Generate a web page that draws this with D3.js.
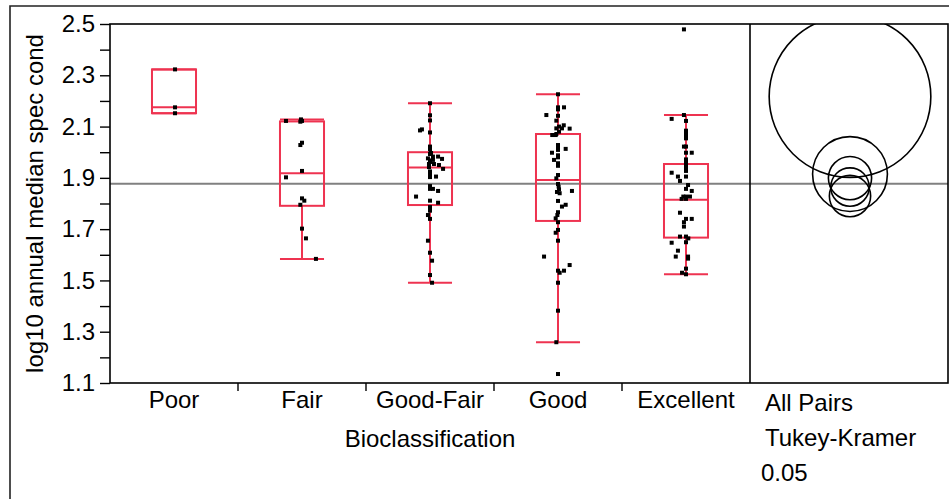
<!DOCTYPE html>
<html>
<head>
<meta charset="utf-8">
<script src="https://cdn.jsdelivr.net/npm/d3@7"></script>
<style>
  body { margin: 0; background: #fff; }
  svg { display: block; }
  text { font-family: "Liberation Sans", Arial, sans-serif; fill: #000; }
</style>
</head>
<body>
<svg id="chart" width="949" height="499"></svg>
<script>
// Categories along the x axis
const categories = ["Poor", "Fair", "Good-Fair", "Good", "Excellent"];

// log10 annual median specific conductance, one array per bioclassification
const poorValues = [2.323, 2.175, 2.152];
const fairValues = [2.122, 2.128, 2.122, 2.119, 2.037, 2.028, 1.927, 1.902, 1.820, 1.811, 1.795, 1.702, 1.664, 1.584];
const goodFairValues = [2.191, 2.144, 2.124, 2.085, 2.089, 2.077, 2.022, 2.011, 1.997, 1.993, 1.983, 1.983, 1.976, 1.974, 1.968, 1.970, 1.962, 1.954, 1.954, 1.950, 1.942, 1.935, 1.925, 1.915, 1.905, 1.903, 1.868, 1.857, 1.857, 1.849, 1.827, 1.811, 1.803, 1.786, 1.772, 1.755, 1.740, 1.655, 1.608, 1.577, 1.521, 1.491];
const goodValues = [2.226, 2.175, 2.167, 2.175, 2.145, 2.142, 2.123, 2.100, 2.093, 2.093, 2.105, 2.092, 2.080, 2.071, 2.067, 2.067, 2.028, 2.019, 2.009, 2.013, 1.998, 1.988, 1.980, 1.970, 1.957, 1.947, 1.911, 1.898, 1.876, 1.866, 1.855, 1.845, 1.840, 1.849, 1.810, 1.788, 1.795, 1.766, 1.755, 1.742, 1.727, 1.697, 1.686, 1.655, 1.593, 1.560, 1.538, 1.530, 1.538, 1.491, 1.382, 1.259, 1.135];
const excellentValues = [2.479, 2.145, 2.130, 2.122, 2.084, 2.074, 2.063, 2.054, 2.022, 2.022, 1.998, 1.998, 1.972, 1.959, 1.947, 1.937, 1.927, 1.920, 1.905, 1.888, 1.905, 1.872, 1.857, 1.849, 1.827, 1.827, 1.827, 1.818, 1.818, 1.764, 1.740, 1.740, 1.727, 1.710, 1.671, 1.671, 1.664, 1.649, 1.647, 1.616, 1.593, 1.593, 1.585, 1.546, 1.530, 1.524];

// Horizontal jitter of each point, as a fraction of the category band
const poorJitter = [0.008, 0.008, 0.008];
const fairJitter = [-0.125, -0.008, 0, -0.013, 0, -0.013, 0, -0.125, 0, 0.018, -0.013, 0, 0.031, 0.109];
const goodFairJitter = [0, 0, 0, -0.078, -0.063, 0, 0, 0, 0.008, 0, 0.023, 0.063, -0.016, 0.094, 0, 0.023, 0, -0.008, 0.031, 0.07, -0.008, 0.102, 0, 0, 0.047, 0, 0, 0, 0.023, 0.063, -0.109, 0, 0.063, 0, 0, -0.016, 0, -0.016, 0, 0.016, 0, 0.016];
const goodJitter = [0, 0, 0, 0.047, -0.091, 0, -0.013, 0.008, -0.013, 0.031, 0.045, 0.091, 0.008, -0.013, -0.045, -0.018, 0, 0, 0, 0.06, -0.047, 0, 0, -0.031, 0, 0, 0, -0.013, 0, 0.005, 0.008, -0.008, 0.013, 0.109, 0, 0.031, 0.06, 0, -0.005, -0.018, 0, 0, -0.018, 0, -0.109, 0.091, 0, 0.013, 0.047, 0, 0, -0.013, 0];
const excellentJitter = [-0.016, -0.016, -0.112, 0, 0, 0, 0, 0, -0.016, 0, 0, 0.045, 0, 0, 0, 0, 0, -0.112, -0.063, -0.047, 0, 0.016, 0, 0.045, -0.021, 0, 0.031, -0.034, 0, -0.047, 0, 0.045, -0.016, -0.016, -0.047, 0, 0.018, 0, -0.112, -0.063, -0.08, 0.016, 0.016, 0, -0.031, 0];

// Quantile box summaries per category
const q1 = [2.152, 1.791, 1.794, 1.732, 1.667];
const medians = [2.175, 1.918, 1.940, 1.892, 1.815];
const q3 = [2.323, 2.120, 2.000, 2.071, 1.954];

// Group means and the overall mean (comparison circles, reference line)
const groupMeans = [2.217, 1.915, 1.899, 1.864, 1.829];
const grandMean = 1.877;

// Tukey-Kramer all-pairs settings
const alphaLevel = "0.05";
const qStar = 2.73;
const rmse = 0.2;

// Axis ticks
const yLabelTicks = [1.1, 1.3, 1.5, 1.7, 1.9, 2.1, 2.3, 2.5];
const yMinorTicks = [1.1, 1.2, 1.3, 1.4, 1.5, 1.6, 1.7, 1.8, 1.9, 2.0, 2.1, 2.2, 2.3, 2.4, 2.5];

const groupValues = [poorValues, fairValues, goodFairValues, goodValues, excellentValues];
const groupJitter = [poorJitter, fairJitter, goodFairJitter, goodJitter, excellentJitter];

const boxColor = "#ee3350";
const fontSize = 24;

const svg = d3.select("#chart");

// Plot geometry
const plot = { left: 110, right: 750, top: 24, bottom: 383 };
const panel = { left: 750, right: 948 };

const y = d3.scaleLinear().domain([1.1, 2.5]).range([plot.bottom, plot.top]);
const x = d3.scaleBand().domain(categories).range([plot.left, plot.right]);
const boxW = x.bandwidth() * 0.344;

// Outer frame
svg.append("path")
  .attr("d", `M10,499 V6 H949`)
  .attr("fill", "none").attr("stroke", "#222").attr("stroke-width", 1.6);

// Grand mean reference line
svg.append("line")
  .attr("x1", plot.left).attr("x2", panel.right)
  .attr("y1", y(grandMean)).attr("y2", y(grandMean))
  .attr("stroke", "#808080").attr("stroke-width", 1.8);

// Box plots with whiskers
const groups = categories.map((c, i) => {
  const vals = groupValues[i];
  const iqr = q3[i] - q1[i];
  const hiFence = q3[i] + 1.5 * iqr, loFence = q1[i] - 1.5 * iqr;
  return {
    cat: c,
    cx: x(c) + x.bandwidth() / 2,
    q1: q1[i], med: medians[i], q3: q3[i],
    whiHi: d3.max(vals.filter(v => v <= hiFence)),
    whiLo: d3.min(vals.filter(v => v >= loFence)),
    n: vals.length,
    mean: groupMeans[i]
  };
});

const boxes = svg.append("g").attr("fill", "none").attr("stroke", boxColor).attr("stroke-width", 2);
groups.forEach(g => {
  const b = boxes.append("g");
  b.append("line").attr("x1", g.cx).attr("x2", g.cx).attr("y1", y(g.q3)).attr("y2", y(g.whiHi));
  b.append("line").attr("x1", g.cx).attr("x2", g.cx).attr("y1", y(g.q1)).attr("y2", y(g.whiLo));
  b.append("line").attr("x1", g.cx - boxW / 2).attr("x2", g.cx + boxW / 2).attr("y1", y(g.whiHi)).attr("y2", y(g.whiHi));
  b.append("line").attr("x1", g.cx - boxW / 2).attr("x2", g.cx + boxW / 2).attr("y1", y(g.whiLo)).attr("y2", y(g.whiLo));
  b.append("rect").attr("x", g.cx - boxW / 2).attr("width", boxW)
    .attr("y", y(g.q3)).attr("height", y(g.q1) - y(g.q3));
  b.append("line").attr("x1", g.cx - boxW / 2).attr("x2", g.cx + boxW / 2).attr("y1", y(g.med)).attr("y2", y(g.med));
});

// Jittered observations
const pts = svg.append("g").attr("fill", "#000");
categories.forEach((c, i) => {
  const cx = x(c) + x.bandwidth() / 2;
  pts.selectAll(null)
    .data(groupValues[i].map((v, k) => ({ v, j: groupJitter[i][k] })))
    .join("rect")
    .attr("x", d => cx + d.j * x.bandwidth() - 2)
    .attr("y", d => y(d.v) - 2)
    .attr("width", 4).attr("height", 4);
});

// Comparison circles, clipped to the right-hand panel
svg.append("clipPath").attr("id", "panelClip")
  .append("rect").attr("x", panel.left).attr("y", plot.top)
  .attr("width", panel.right - panel.left).attr("height", plot.bottom - plot.top);
const circleX = (panel.left + panel.right) / 2 + 1;
const pxPerUnit = y(0) - y(1);
svg.append("g").attr("clip-path", "url(#panelClip)")
  .selectAll("circle").data(groups).join("circle")
  .attr("cx", circleX)
  .attr("cy", d => y(d.mean))
  .attr("r", d => qStar * rmse / Math.sqrt(d.n) * pxPerUnit)
  .attr("fill", "none").attr("stroke", "#000").attr("stroke-width", 1.6);

// Plot and panel frames
svg.append("rect").attr("x", plot.left).attr("y", plot.top)
  .attr("width", panel.right - plot.left).attr("height", plot.bottom - plot.top)
  .attr("fill", "none").attr("stroke", "#000").attr("stroke-width", 1.6);
svg.append("line").attr("x1", panel.left).attr("x2", panel.left)
  .attr("y1", plot.top).attr("y2", plot.bottom)
  .attr("stroke", "#000").attr("stroke-width", 1.6);

// Y axis
const yAxis = d3.axisLeft(y)
  .tickValues(yMinorTicks)
  .tickSize(10).tickPadding(5)
  .tickFormat(d => yLabelTicks.some(t => Math.abs(t - d) < 1e-9) ? d3.format(".1f")(d) : "");
const yg = svg.append("g").attr("transform", `translate(${plot.left},0)`).call(yAxis);
yg.select(".domain").remove();
yg.selectAll(".tick line").attr("stroke", "#000").attr("stroke-width", 1.4);
yg.selectAll(".tick text").attr("font-size", fontSize).attr("font-family", null).attr("fill", "#000");

// X axis: category labels centred in bands, ticks on band boundaries
const xAxis = d3.axisBottom(x).tickSize(0).tickPadding(8);
const xg = svg.append("g").attr("transform", `translate(0,${plot.bottom})`).call(xAxis);
xg.select(".domain").remove();
xg.selectAll(".tick text").attr("font-size", fontSize).attr("font-family", null).attr("fill", "#000");
svg.append("g").selectAll("line").data(categories.slice(1)).join("line")
  .attr("x1", d => x(d)).attr("x2", d => x(d))
  .attr("y1", plot.bottom).attr("y2", plot.bottom + 8)
  .attr("stroke", "#000").attr("stroke-width", 1.4);

// Axis titles
svg.append("text")
  .attr("x", (plot.left + plot.right) / 2).attr("y", 447)
  .attr("text-anchor", "middle").attr("font-size", fontSize)
  .text("Bioclassification");
svg.append("text")
  .attr("transform", `translate(43,${(plot.top + plot.bottom) / 2}) rotate(-90)`)
  .attr("text-anchor", "middle").attr("font-size", fontSize)
  .text("log10 annual median spec cond");

// Comparison panel caption
const caption = ["All Pairs", "Tukey-Kramer", alphaLevel];
svg.append("g").selectAll("text").data(caption).join("text")
  .attr("x", (d, i) => i === 2 ? 761 : 765)
  .attr("y", (d, i) => 411 + i * 35)
  .attr("font-size", fontSize)
  .text(d => d);
</script>
</body>
</html>
